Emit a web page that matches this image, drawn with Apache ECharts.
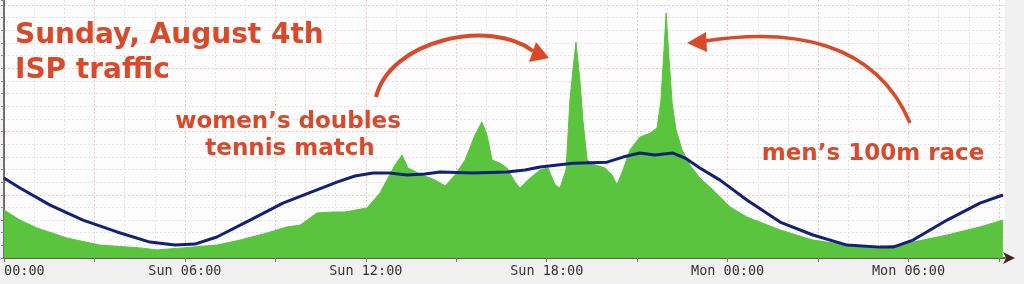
<!DOCTYPE html>
<html><head><meta charset="utf-8">
<script src="https://cdn.jsdelivr.net/npm/echarts@6/dist/echarts.min.js"></script>
<style>html,body{margin:0;padding:0;background:#f1f1f1;}#c{width:1024px;height:284px;}</style>
</head><body><div id="c"></div>
<script>
// traffic (green area): hours since Sun 00:00, relative volume
const trafficHours = [0,0.53,1.09,2.09,3.18,4.51,5.07,5.94,7.06,7.83,8.72,9.39,9.82,10.38,10.91,11.31,12.04,12.47,12.70,12.97,13.20,13.40,13.80,14.30,14.63,14.96,15.29,15.62,15.85,16.02,16.19,16.45,16.68,16.95,17.11,17.45,17.78,18.04,18.28,18.44,18.64,18.77,18.87,18.97,19.10,19.20,19.34,19.60,19.93,20.17,20.33,20.53,20.76,21.09,21.43,21.66,21.79,21.89,21.96,22.06,22.16,22.29,22.49,22.75,23.08,23.52,24.08,24.64,25.74,26.83,27.96,29.05,29.62,30.15,31.28,32.37,33.13];
const trafficValues = [19.0,15.0,11.9,7.9,5.1,4.0,3.2,4.0,5.1,7.1,9.9,12.3,13.0,17.8,18.2,18.2,19.8,25.7,30.8,36.8,40.7,35.6,33.2,30.8,28.5,32.8,38.7,48.6,53.8,48.6,38.7,37.5,35.6,30.0,27.7,31.6,34.8,35.6,28.9,27.7,34.8,62.5,74.3,85.4,70.4,54.5,38.7,36.8,35.6,32.8,28.9,34.8,42.7,47.8,49.4,51.4,62.5,82.2,96.8,78.3,61.3,50.6,42.7,36.8,31.6,26.9,20.2,16.2,11.1,7.1,5.1,4.3,5.1,6.3,9.1,12.3,15.0];
// trend (blue line)
const trendHours = [0,0.53,1.53,2.62,3.75,4.84,5.67,6.33,7.06,8.16,9.25,10.38,11.04,11.64,12.24,12.80,13.37,13.96,14.46,15.56,16.68,17.28,17.78,18.87,20.00,20.53,21.09,21.59,22.19,22.59,23.08,23.75,24.64,25.74,26.83,27.96,29.05,29.49,30.15,31.28,32.37,33.13];
const trendValues = [31.6,27.7,20.9,15.0,10.3,6.3,5.1,5.5,8.3,15.0,21.7,26.9,30.0,32.4,33.6,33.6,32.8,33.2,34.0,33.6,34.0,34.8,36.0,37.5,37.9,39.9,41.5,40.7,41.5,39.5,35.6,30.8,22.9,14.2,9.1,5.1,4.3,4.3,7.1,15.0,21.7,24.9];
const tickHours = [0,6,12,18,24,30];
const tickLabels = ['00:00','Sun 06:00','Sun 12:00','Sun 18:00','Mon 00:00','Mon 06:00'];
const titleLines = ['Sunday, August 4th','ISP traffic'];
const noteWomen = ['women\u2019s doubles','tennis match'];
const noteMen = 'men\u2019s 100m race';

const RED = '#d9492a';
const trafficData = trafficHours.map((h,i)=>[h,trafficValues[i]]);
const trendData = trendHours.map((h,i)=>[h,trendValues[i]]);

const chart = echarts.init(document.getElementById('c'), null, {renderer:'canvas'});
const gray = {color:'#e3e3e3', type:[2,2], width:1};
const pink = {color:'#efc9c9', type:[2,2], width:1};
const XMAX = 33.2, YMAX = 102;
const titleFont = 'bold 28px "DejaVu Sans"';
const noteFont = 'bold 23px "DejaVu Sans"';
function txt(x,y,text,font,align){
  return {type:'text', x:x, y:y, z:100, style:{text:text, fill:RED, font:font, textAlign:align, textVerticalAlign:'middle', verticalAlign:'middle'}};
}
chart.setOption({
  animation:false,
  backgroundColor:'#f1f1f1',
  grid:{left:4, right:19, top:0, bottom:26, show:true, backgroundColor:'#fdfdfd', borderWidth:0},
  xAxis:[
    {type:'value', min:0, max:XMAX, interval:1, position:'bottom',
     axisLine:{show:true, onZero:false, lineStyle:{color:'#3b2a24', width:1.5}, symbol:['none','arrow'], symbolSize:[9,12], symbolOffset:[0,10]},
     axisTick:{show:false}, axisLabel:{show:false},
     splitLine:{show:true, showMaxLine:false, lineStyle:gray}},
    {type:'value', min:0, max:XMAX, interval:3, position:'bottom',
     axisLine:{show:false, onZero:false},
     axisTick:{show:true, length:4, lineStyle:{color:'#9a6a60'}},
     axisLabel:{show:true, margin:6, fontFamily:'DejaVu Sans Mono', fontSize:13.5, color:'#333',
       alignMinLabel:'left', showMaxLabel:false,
       formatter:function(v){const i=tickHours.indexOf(Math.round(v*100)/100);return i>=0?tickLabels[i]:'';}},
     splitLine:{show:true, showMaxLine:false, lineStyle:pink}}
  ],
  yAxis:[
    {type:'value', min:0, max:YMAX, interval:5, position:'left',
     axisLine:{show:true, onZero:false, lineStyle:{color:'#444', width:1.5}},
     axisTick:{show:true, length:3, lineStyle:{color:'#888'}},
     axisLabel:{show:false},
     splitLine:{show:true, showMaxLine:false, lineStyle:gray}},
    {type:'value', min:0, max:YMAX, interval:25, position:'left',
     axisLine:{show:false}, axisTick:{show:false}, axisLabel:{show:false},
     splitLine:{show:true, showMaxLine:false, lineStyle:pink}}
  ],
  series:[
    {type:'line', name:'traffic', xAxisIndex:0, yAxisIndex:0, data:trafficData, symbol:'none',
     lineStyle:{color:'#5ac43e', width:1}, areaStyle:{color:'#5ac43e', opacity:1}, z:2},
    {type:'line', name:'trend', xAxisIndex:0, yAxisIndex:0, data:trendData, symbol:'none',
     lineStyle:{color:'#13207a', width:3}, z:3}
  ],
  graphic:[
    txt(15,36,titleLines[0],titleFont,'left'),
    txt(15,71,titleLines[1],titleFont,'left'),
    txt(288,122,noteWomen[0],noteFont,'center'),
    txt(290,149,noteWomen[1],noteFont,'center'),
    txt(873,154,noteMen,noteFont,'center'),
    {type:'bezierCurve', z:100, shape:{x1:376,y1:97,cpx1:390,cpy1:40,cpx2:490,cpy2:18,x2:533,y2:51}, style:{stroke:RED, lineWidth:4, fill:null}},
    {type:'polygon', z:100, shape:{points:[[549,58],[536,42],[529,62]]}, style:{fill:RED}},
    {type:'bezierCurve', z:100, shape:{x1:910,y1:123,cpx1:875,cpy1:40,cpx2:790,cpy2:28,x2:705,y2:41}, style:{stroke:RED, lineWidth:3.5, fill:null}},
    {type:'polygon', z:100, shape:{points:[[687,43],[706,32],[707,52]]}, style:{fill:RED}}
  ]
});
</script></body></html>
